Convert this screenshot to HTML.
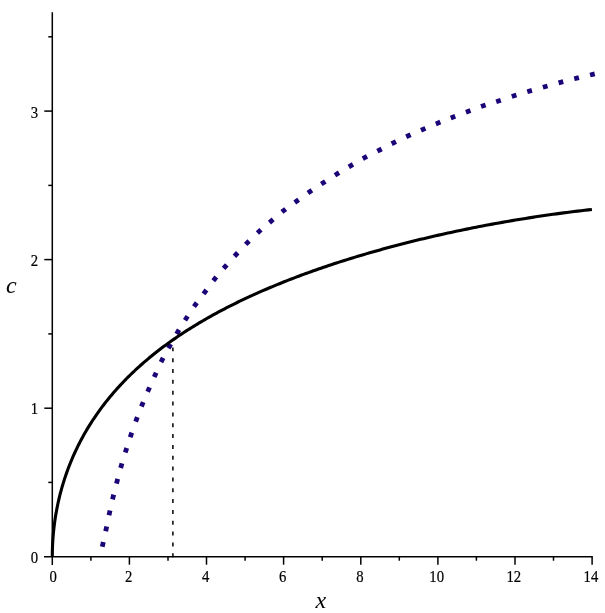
<!DOCTYPE html>
<html><head><meta charset="utf-8"><title>plot</title>
<style>
html,body{margin:0;padding:0;background:#fff;}
svg{display:block}
text{font-family:"Liberation Serif",serif;fill:#000}
</style></head><body>
<svg width="605" height="613" viewBox="0 0 605 613">
<rect width="605" height="613" fill="#fff"/>
<g stroke="#000" stroke-width="1.5" fill="none">
<path d="M52.3,12.3 V565" />
<path d="M44,556.7 H592.8" />
<path d="M90.9,556.7 v4"/>
<path d="M129.4,556.7 v8"/>
<path d="M168.0,556.7 v4"/>
<path d="M206.5,556.7 v8"/>
<path d="M245.1,556.7 v4"/>
<path d="M283.6,556.7 v8"/>
<path d="M322.2,556.7 v4"/>
<path d="M360.8,556.7 v8"/>
<path d="M399.3,556.7 v4"/>
<path d="M437.9,556.7 v8"/>
<path d="M476.4,556.7 v4"/>
<path d="M515.0,556.7 v8"/>
<path d="M553.5,556.7 v4"/>
<path d="M592.1,556.7 v8"/>
<path d="M52.3,482.4 h-4"/>
<path d="M52.3,408.2 h-8"/>
<path d="M52.3,333.9 h-4"/>
<path d="M52.3,259.6 h-8"/>
<path d="M52.3,185.4 h-4"/>
<path d="M52.3,111.1 h-8"/>
<path d="M52.3,36.8 h-4"/>
</g>
<path d="M172.9,557.3 V347.4" stroke="#000" stroke-width="1.5" stroke-dasharray="4 6.84" fill="none"/>
<g fill="#1b0478">
<rect x="-2.4" y="-2.4" width="4.8" height="4.8" transform="translate(102.8,544.4) rotate(-77.7)"/>
<rect x="-2.4" y="-2.4" width="4.8" height="4.8" transform="translate(106.2,528.8) rotate(-78.0)"/>
<rect x="-2.4" y="-2.4" width="4.8" height="4.8" transform="translate(109.5,512.8) rotate(-77.8)"/>
<rect x="-2.4" y="-2.4" width="4.8" height="4.8" transform="translate(113.1,497.0) rotate(-76.4)"/>
<rect x="-2.4" y="-2.4" width="4.8" height="4.8" transform="translate(117.1,481.3) rotate(-75.3)"/>
<rect x="-2.4" y="-2.4" width="4.8" height="4.8" transform="translate(121.3,465.7) rotate(-74.0)"/>
<rect x="-2.4" y="-2.4" width="4.8" height="4.8" transform="translate(126.0,450.2) rotate(-72.5)"/>
<rect x="-2.4" y="-2.4" width="4.8" height="4.8" transform="translate(131.0,434.9) rotate(-71.2)"/>
<rect x="-2.4" y="-2.4" width="4.8" height="4.8" transform="translate(136.5,419.4) rotate(-69.7)"/>
<rect x="-2.4" y="-2.4" width="4.8" height="4.8" transform="translate(142.3,404.3) rotate(-67.9)"/>
<rect x="-2.4" y="-2.4" width="4.8" height="4.8" transform="translate(148.6,389.6) rotate(-66.3)"/>
<rect x="-2.4" y="-2.4" width="4.8" height="4.8" transform="translate(155.2,374.9) rotate(-65.5)"/>
<rect x="-2.4" y="-2.4" width="4.8" height="4.8" transform="translate(162.1,360.0) rotate(-63.4)"/>
<rect x="-2.4" y="-2.4" width="4.8" height="4.8" transform="translate(169.6,346.2) rotate(-60.8)"/>
<rect x="-2.4" y="-2.4" width="4.8" height="4.8" transform="translate(177.8,331.9) rotate(-59.2)"/>
<rect x="-2.4" y="-2.4" width="4.8" height="4.8" transform="translate(186.3,318.2) rotate(-57.1)"/>
<rect x="-2.4" y="-2.4" width="4.8" height="4.8" transform="translate(195.4,304.7) rotate(-54.6)"/>
<rect x="-2.4" y="-2.4" width="4.8" height="4.8" transform="translate(205.0,291.9) rotate(-53.2)"/>
<rect x="-2.4" y="-2.4" width="4.8" height="4.8" transform="translate(214.8,278.8) rotate(-51.4)"/>
<rect x="-2.4" y="-2.4" width="4.8" height="4.8" transform="translate(225.2,266.6) rotate(-48.8)"/>
<rect x="-2.4" y="-2.4" width="4.8" height="4.8" transform="translate(236.1,254.5) rotate(-47.1)"/>
<rect x="-2.4" y="-2.4" width="4.8" height="4.8" transform="translate(247.4,242.7) rotate(-45.0)"/>
<rect x="-2.4" y="-2.4" width="4.8" height="4.8" transform="translate(259.2,231.4) rotate(-42.2)"/>
<rect x="-2.4" y="-2.4" width="4.8" height="4.8" transform="translate(271.3,221.0) rotate(-40.4)"/>
<rect x="-2.4" y="-2.4" width="4.8" height="4.8" transform="translate(283.8,210.5) rotate(-38.1)"/>
<rect x="-2.4" y="-2.4" width="4.8" height="4.8" transform="translate(296.7,201.1) rotate(-35.9)"/>
<rect x="-2.4" y="-2.4" width="4.8" height="4.8" transform="translate(309.9,191.6) rotate(-34.5)"/>
<rect x="-2.4" y="-2.4" width="4.8" height="4.8" transform="translate(323.3,182.8) rotate(-33.2)"/>
<rect x="-2.4" y="-2.4" width="4.8" height="4.8" transform="translate(337.0,173.9) rotate(-31.9)"/>
<rect x="-2.4" y="-2.4" width="4.8" height="4.8" transform="translate(350.9,165.6) rotate(-30.4)"/>
<rect x="-2.4" y="-2.4" width="4.8" height="4.8" transform="translate(364.9,157.5) rotate(-28.5)"/>
<rect x="-2.4" y="-2.4" width="4.8" height="4.8" transform="translate(379.5,150.1) rotate(-27.1)"/>
<rect x="-2.4" y="-2.4" width="4.8" height="4.8" transform="translate(393.8,142.7) rotate(-26.3)"/>
<rect x="-2.4" y="-2.4" width="4.8" height="4.8" transform="translate(408.4,135.8) rotate(-24.5)"/>
<rect x="-2.4" y="-2.4" width="4.8" height="4.8" transform="translate(423.2,129.3) rotate(-23.3)"/>
<rect x="-2.4" y="-2.4" width="4.8" height="4.8" transform="translate(438.1,123.0) rotate(-22.3)"/>
<rect x="-2.4" y="-2.4" width="4.8" height="4.8" transform="translate(453.0,117.1) rotate(-21.1)"/>
<rect x="-2.4" y="-2.4" width="4.8" height="4.8" transform="translate(468.2,111.4) rotate(-20.5)"/>
<rect x="-2.4" y="-2.4" width="4.8" height="4.8" transform="translate(483.3,105.8) rotate(-18.9)"/>
<rect x="-2.4" y="-2.4" width="4.8" height="4.8" transform="translate(498.5,101.0) rotate(-18.2)"/>
<rect x="-2.4" y="-2.4" width="4.8" height="4.8" transform="translate(514.1,95.7) rotate(-17.7)"/>
<rect x="-2.4" y="-2.4" width="4.8" height="4.8" transform="translate(529.6,91.1) rotate(-16.3)"/>
<rect x="-2.4" y="-2.4" width="4.8" height="4.8" transform="translate(545.2,86.6) rotate(-15.7)"/>
<rect x="-2.4" y="-2.4" width="4.8" height="4.8" transform="translate(560.9,82.3) rotate(-15.0)"/>
<rect x="-2.4" y="-2.4" width="4.8" height="4.8" transform="translate(576.6,78.2) rotate(-14.1)"/>
<rect x="-2.4" y="-2.4" width="4.8" height="4.8" transform="translate(592.4,74.4) rotate(-13.5)"/>
</g>
<path d="M52.30,556.70 L52.31,554.96 L52.32,553.21 L52.35,551.47 L52.40,549.72 L52.45,547.97 L52.52,546.23 L52.60,544.48 L52.69,542.73 L52.79,540.99 L52.90,539.24 L53.03,537.49 L53.17,535.75 L53.32,534.00 L53.48,532.25 L53.66,530.51 L53.85,528.77 L54.04,527.02 L54.26,525.28 L54.48,523.54 L54.71,521.80 L54.96,520.07 L55.22,518.33 L55.49,516.60 L55.78,514.86 L56.07,513.13 L56.38,511.40 L56.70,509.68 L57.03,507.95 L57.38,506.23 L57.73,504.51 L58.10,502.79 L58.48,501.08 L58.87,499.36 L59.28,497.65 L59.69,495.95 L60.12,494.24 L60.56,492.54 L61.02,490.84 L61.48,489.15 L61.96,487.45 L62.45,485.77 L62.95,484.08 L63.46,482.40 L63.99,480.72 L64.52,479.04 L65.07,477.37 L65.63,475.70 L66.21,474.04 L66.79,472.38 L67.39,470.72 L68.00,469.07 L68.62,467.42 L69.25,465.77 L69.90,464.13 L70.56,462.50 L71.23,460.86 L71.91,459.24 L72.60,457.61 L73.31,455.99 L74.03,454.38 L74.76,452.76 L75.50,451.16 L76.26,449.56 L77.02,447.96 L77.80,446.37 L78.59,444.78 L79.39,443.19 L80.21,441.61 L81.04,440.04 L81.88,438.47 L82.73,436.91 L83.59,435.35 L84.46,433.79 L85.35,432.24 L86.25,430.70 L87.16,429.16 L88.09,427.62 L89.02,426.09 L89.97,424.57 L90.93,423.05 L91.90,421.53 L92.88,420.02 L93.88,418.52 L94.89,417.02 L95.91,415.52 L96.94,414.03 L97.98,412.55 L99.04,411.07 L100.11,409.60 L101.19,408.13 L102.28,406.67 L103.39,405.21 L104.50,403.76 L105.63,402.31 L106.77,400.87 L107.93,399.43 L109.09,398.00 L110.27,396.57 L111.46,395.15 L112.66,393.74 L113.87,392.33 L115.10,390.92 L116.33,389.52 L117.58,388.13 L118.84,386.74 L120.12,385.36 L121.40,383.98 L122.70,382.61 L124.01,381.24 L125.33,379.88 L126.67,378.53 L128.01,377.18 L129.37,375.83 L130.74,374.49 L132.12,373.16 L133.52,371.83 L134.92,370.50 L136.34,369.19 L137.77,367.87 L139.21,366.56 L140.67,365.26 L142.14,363.97 L143.61,362.67 L145.11,361.39 L146.61,360.11 L148.12,358.83 L149.65,357.56 L151.19,356.29 L152.74,355.03 L154.30,353.78 L155.88,352.53 L157.47,351.29 L159.07,350.05 L160.68,348.81 L162.30,347.58 L163.94,346.36 L165.58,345.14 L167.24,343.93 L168.92,342.72 L170.60,341.52 L172.30,340.32 L174.00,339.13 L175.72,337.94 L177.46,336.76 L179.20,335.58 L180.96,334.40 L182.73,333.24 L184.51,332.07 L186.30,330.92 L188.10,329.76 L189.92,328.62 L191.75,327.47 L193.59,326.33 L195.44,325.20 L197.31,324.07 L199.19,322.95 L201.07,321.83 L202.98,320.72 L204.89,319.61 L206.81,318.50 L208.75,317.40 L210.70,316.31 L212.66,315.22 L214.64,314.14 L216.62,313.05 L218.62,311.98 L220.63,310.91 L222.65,309.84 L224.69,308.78 L226.73,307.72 L228.79,306.67 L230.86,305.62 L232.94,304.58 L235.04,303.54 L237.14,302.50 L239.26,301.47 L241.39,300.45 L243.54,299.43 L245.69,298.41 L247.86,297.40 L250.04,296.39 L252.23,295.39 L254.43,294.39 L256.65,293.40 L258.87,292.41 L261.11,291.42 L263.36,290.44 L265.63,289.46 L267.90,288.49 L270.19,287.52 L272.49,286.56 L274.80,285.60 L277.12,284.64 L279.46,283.69 L281.81,282.75 L284.17,281.80 L286.54,280.86 L288.92,279.93 L291.32,279.00 L293.73,278.08 L296.15,277.15 L298.58,276.24 L301.03,275.32 L303.48,274.42 L305.95,273.51 L308.43,272.61 L310.92,271.72 L313.43,270.82 L315.95,269.94 L318.48,269.05 L321.02,268.17 L323.57,267.30 L326.13,266.43 L328.71,265.56 L331.30,264.70 L333.90,263.84 L336.52,262.99 L339.14,262.14 L341.78,261.29 L344.43,260.45 L347.09,259.61 L349.76,258.78 L352.45,257.95 L355.15,257.12 L357.86,256.30 L360.58,255.49 L363.31,254.68 L366.06,253.87 L368.82,253.07 L371.59,252.27 L374.37,251.47 L377.17,250.68 L379.97,249.90 L382.79,249.11 L385.62,248.34 L388.47,247.56 L391.32,246.80 L394.19,246.03 L397.07,245.27 L399.96,244.52 L402.86,243.77 L405.78,243.02 L408.70,242.28 L411.64,241.54 L414.59,240.81 L417.56,240.09 L420.53,239.36 L423.52,238.64 L426.52,237.93 L429.53,237.22 L432.56,236.52 L435.59,235.82 L438.64,235.13 L441.70,234.44 L444.77,233.75 L447.86,233.08 L450.95,232.40 L454.06,231.73 L457.18,231.07 L460.32,230.41 L463.46,229.76 L466.62,229.11 L469.79,228.47 L472.97,227.83 L476.16,227.20 L479.36,226.57 L482.58,225.95 L485.81,225.34 L489.05,224.73 L492.30,224.13 L495.57,223.53 L498.85,222.94 L502.14,222.35 L505.44,221.77 L508.75,221.20 L512.08,220.63 L515.42,220.07 L518.77,219.51 L522.13,218.96 L525.50,218.42 L528.89,217.88 L532.29,217.35 L535.70,216.83 L539.12,216.31 L542.55,215.81 L546.00,215.30 L549.46,214.81 L552.93,214.32 L556.41,213.84 L559.90,213.36 L563.41,212.90 L566.93,212.44 L570.46,211.99 L574.00,211.54 L577.56,211.10 L581.13,210.68 L584.71,210.25 L588.30,209.84 L591.90,209.44" stroke="#000" stroke-width="3.1" fill="none" stroke-linejoin="round"/>
<g font-size="16" stroke="#000" stroke-width="0.2">
<text transform="translate(53.2,582) scale(0.92,1)" text-anchor="middle">0</text>
<text transform="translate(128.6,582) scale(0.92,1)" text-anchor="middle">2</text>
<text transform="translate(205.7,582) scale(0.92,1)" text-anchor="middle">4</text>
<text transform="translate(282.8,582) scale(0.92,1)" text-anchor="middle">6</text>
<text transform="translate(360.0,582) scale(0.92,1)" text-anchor="middle">8</text>
<text transform="translate(436.7,582) scale(0.92,1)" text-anchor="middle">10</text>
<text transform="translate(513.8,582) scale(0.92,1)" text-anchor="middle">12</text>
<text transform="translate(590.9,582) scale(0.92,1)" text-anchor="middle">14</text>
<text transform="translate(38.2,563) scale(0.92,1)" text-anchor="end">0</text>
<text transform="translate(38.2,414) scale(0.92,1)" text-anchor="end">1</text>
<text transform="translate(38.2,266) scale(0.92,1)" text-anchor="end">2</text>
<text transform="translate(38.2,118) scale(0.92,1)" text-anchor="end">3</text>
</g>
<text x="5.9" y="293.2" font-size="24" font-style="italic">c</text>
<text x="315.5" y="607.8" font-size="24" font-style="italic">x</text>
</svg>
</body></html>
